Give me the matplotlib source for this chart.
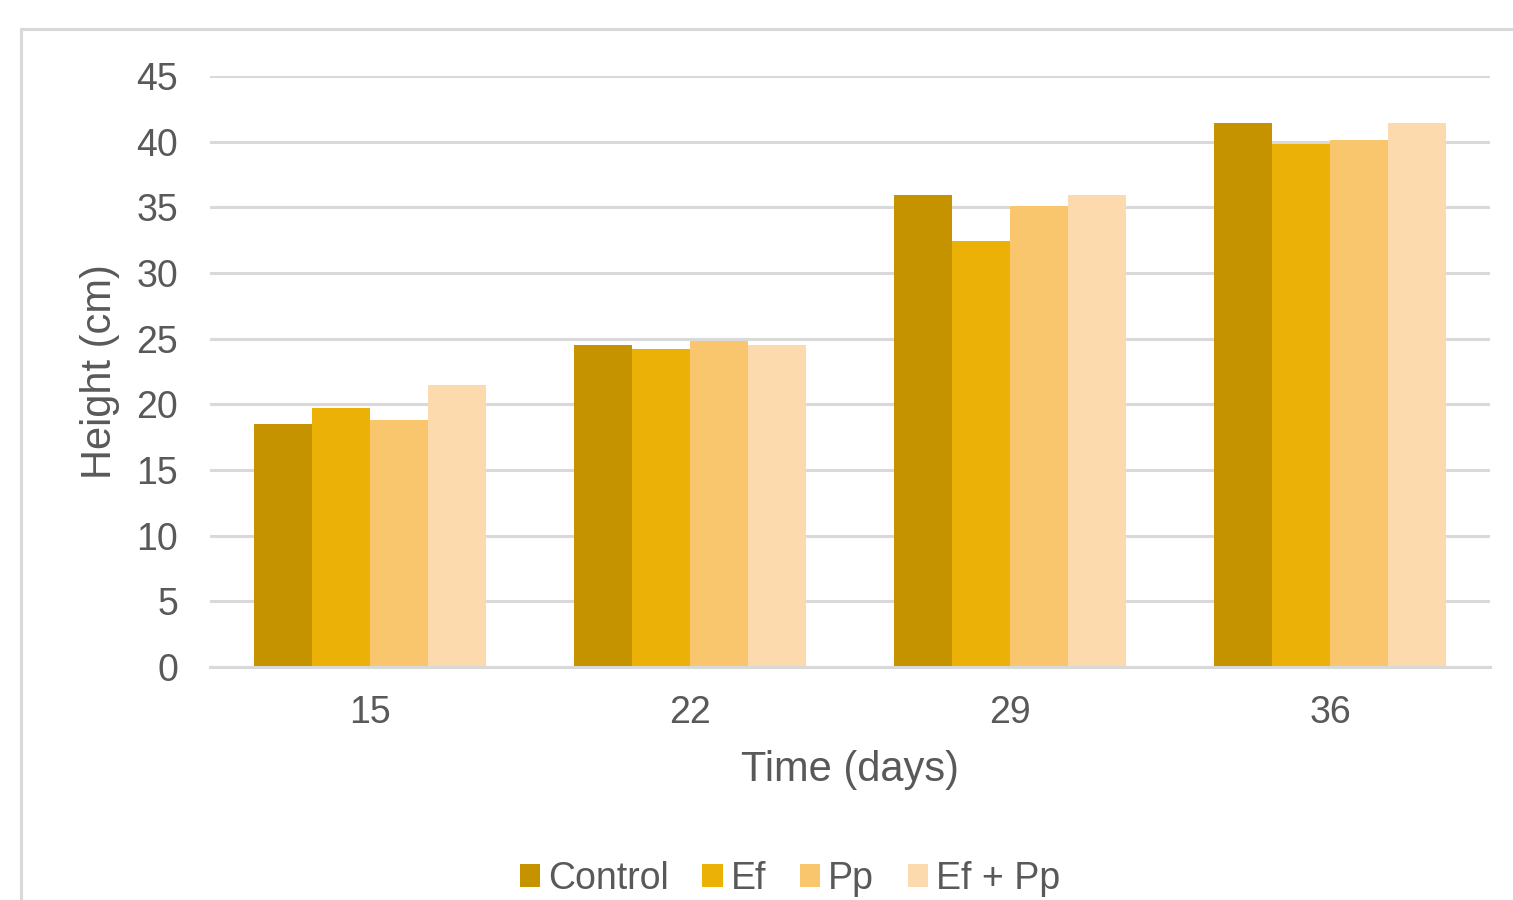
import numpy as np
import matplotlib.pyplot as plt
from matplotlib.patches import Rectangle

plt.rcParams['font.family'] = ['Liberation Sans', 'DejaVu Sans']

# Plant height per treatment over time
days = ['15', '22', '29', '36']
control = [18.5, 24.5, 35.9, 41.4]
ef = [19.7, 24.2, 32.4, 39.8]
pp = [18.8, 24.8, 35.1, 40.1]
ef_pp = [21.5, 24.5, 35.9, 41.4]

series = [('Control', control, '#c59300'),
          ('Ef', ef, '#ecb107'),
          ('Pp', pp, '#fac66d'),
          ('Ef + Pp', ef_pp, '#fcdaad')]

txt = '#595959'
grid_c = '#d9d9d9'

fig = plt.figure(figsize=(15.13, 9), dpi=100)
ax = fig.add_axes([0.1388, 0.2589, 0.846, 0.6567])

# outer chart frame
fig.patches.append(Rectangle((21 / 1513, -0.2), 1.2, 0.2 + 1 - 29 / 900,
                             transform=fig.transFigure, fill=False,
                             edgecolor=grid_c, linewidth=2.2, zorder=0))

x = np.arange(len(days))
w = 0.182
for i, (name, vals, col) in enumerate(series):
    ax.bar(x + (i - 1.5) * w, vals, w, color=col, label=name, zorder=3)

ax.set_xlim(-0.5, 3.5)
ax.set_ylim(0, 45)
ax.set_yticks(range(0, 46, 5))
ax.set_xticks(x)
ax.set_xticklabels(days)
ax.yaxis.grid(True, color=grid_c, linewidth=2.2, zorder=0)
for s in ['top', 'right', 'left']:
    ax.spines[s].set_visible(False)
ax.spines['bottom'].set_color(grid_c)
ax.spines['bottom'].set_linewidth(2.2)
ax.spines['bottom'].set_zorder(4)
ax.tick_params(axis='both', length=0, labelsize=27, colors=txt)
ax.tick_params(axis='y', pad=23)
ax.tick_params(axis='x', pad=20)

ax.set_xlabel('Time (days)', fontsize=30, color=txt, labelpad=14)
ax.set_ylabel('Height (cm)', fontsize=30, color=txt, labelpad=12)

leg = fig.legend(loc='center', bbox_to_anchor=(0.522, 1 - 879 / 900), ncol=4,
                 frameon=False, fontsize=27, handlelength=0.55, handleheight=0.55,
                 handletextpad=0.2, columnspacing=0.9)
for t in leg.get_texts():
    t.set_color(txt)

fig.savefig('out.png', dpi=100)
